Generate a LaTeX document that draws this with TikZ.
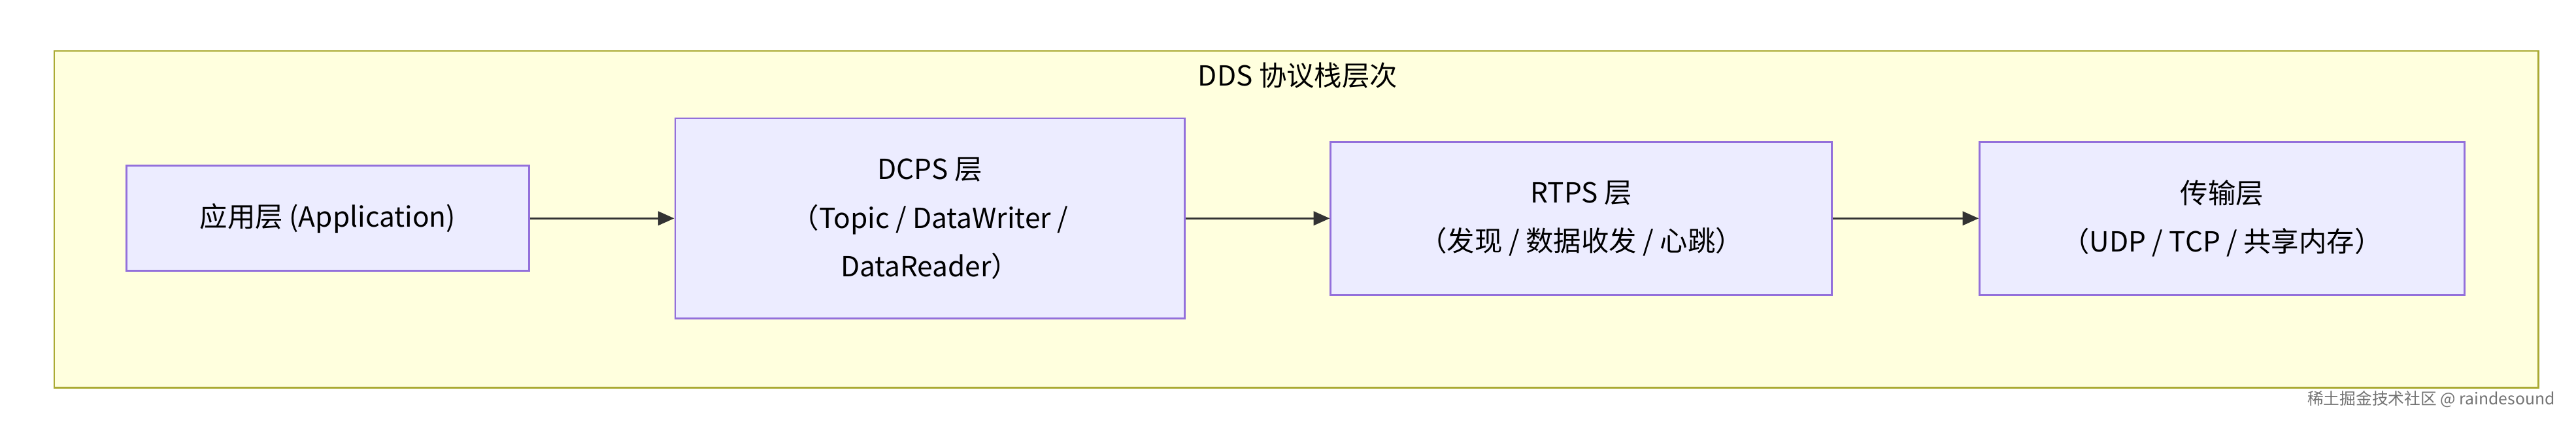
\documentclass[tikz,border=0pt]{standalone}
\usepackage{fontspec}
\setmainfont{Noto Sans CJK SC}
\usetikzlibrary{arrows.meta}
\definecolor{clf}{HTML}{FFFFDE}\definecolor{cld}{HTML}{AAAA33}
\definecolor{nf}{HTML}{ECECFF}\definecolor{nd}{HTML}{9370DB}
\begin{document}
\begin{tikzpicture}[x=0.025cm,y=-0.025cm,
 box/.style={draw=nd,fill=nf,line width=0.8pt,align=center,font=\fontsize{12}{21}\selectfont},
 arr/.style={draw=black!80,line width=0.9pt,-{Triangle[length=7pt,width=6pt]}}]
\useasboundingbox (0,0) rectangle (1568,257);
\fill[white] (0,0) rectangle (1568,257);
\draw[cld,fill=clf,line width=0.8pt] (33,31) rectangle (1545,236);
\node[font=\fontsize{12}{14}\selectfont] (t) at (790,46) {DDS 协议栈层次};
\node[box,minimum width=245*0.025cm,minimum height=64*0.025cm] (a) at (199.5,133) {应用层 (Application)};
\node[box,minimum width=310*0.025cm,minimum height=122*0.025cm] (b) at (566,133) {DCPS 层\\（Topic / DataWriter /\\DataReader）};
\node[box,minimum width=305*0.025cm,minimum height=93*0.025cm] (c) at (962.5,133) {RTPS 层\\（发现 / 数据收发 / 心跳）};
\node[box,minimum width=295*0.025cm,minimum height=93*0.025cm] (d) at (1352.5,133) {传输层\\（UDP / TCP / 共享内存）};
\draw[arr] (a) -- (b);
\draw[arr] (b) -- (c);
\draw[arr] (c) -- (d);
\node[anchor=east,text=black!55,font=\fontsize{7}{8}\selectfont] (w) at (1560,243) {稀土掘金技术社区 @ raindesound};
\end{tikzpicture}
\end{document}
